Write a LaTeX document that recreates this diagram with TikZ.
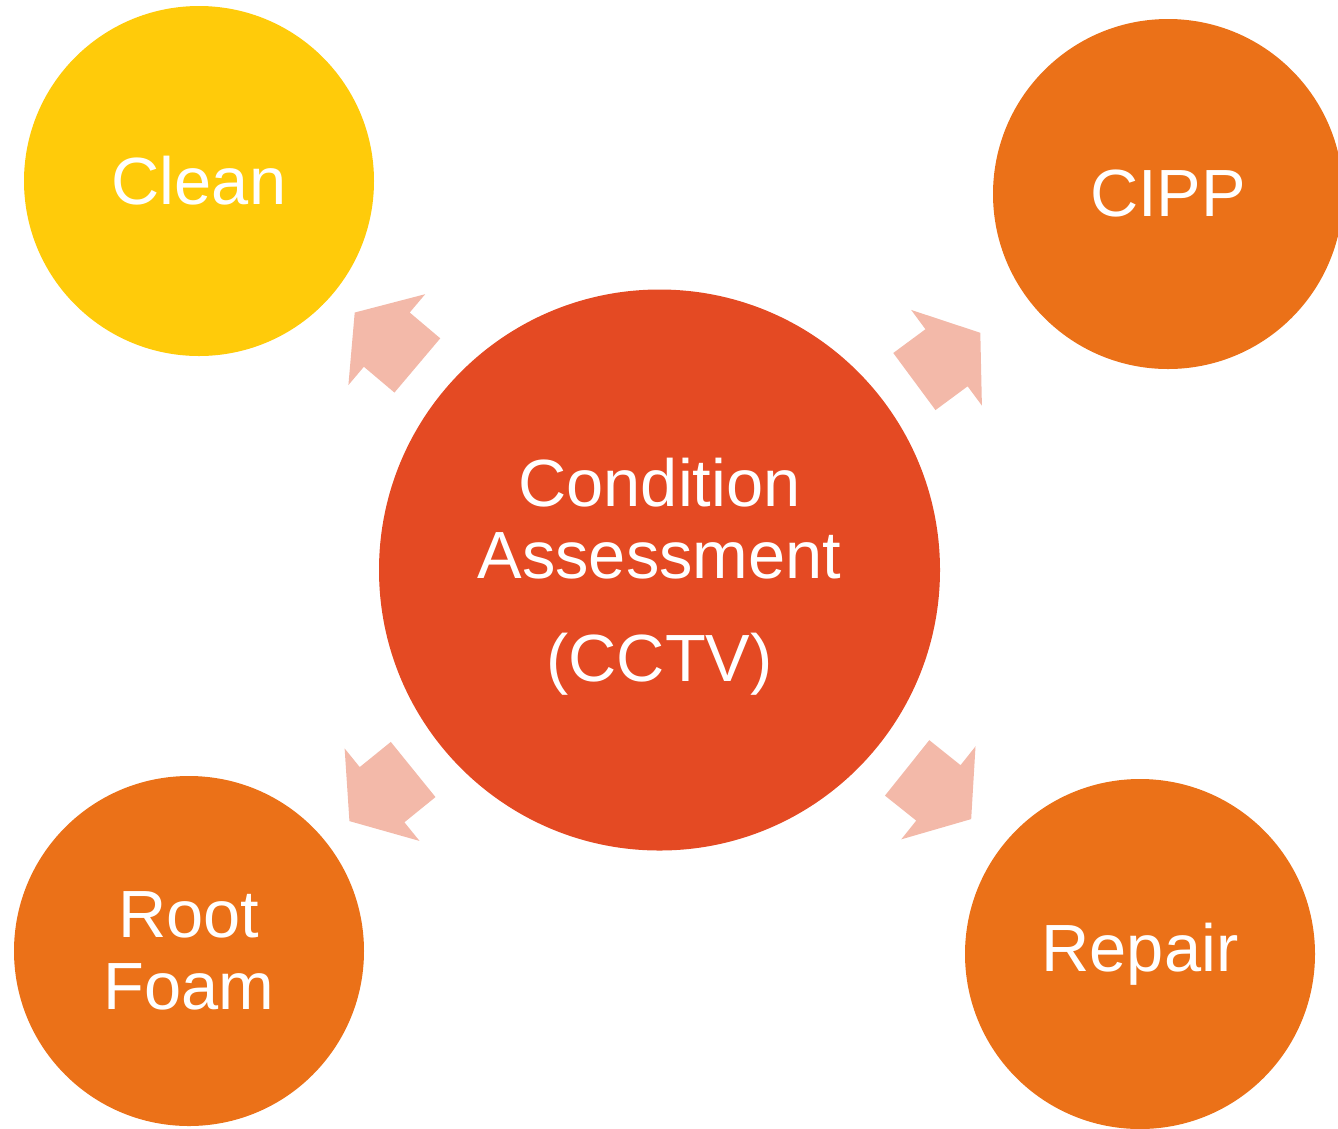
\documentclass[tikz,border=0pt]{standalone}
\usepackage{fontspec}
\setmainfont{Liberation Sans}
\usetikzlibrary{calc}
\definecolor{condred}{HTML}{E44A23}
\definecolor{stepyellow}{HTML}{FFCB0A}
\definecolor{steporange}{HTML}{EB7118}
\definecolor{spokepink}{HTML}{F3B9A9}
\begin{document}
\begin{tikzpicture}[font=\fontsize{38}{41}\selectfont]
	\tikzstyle{bubbleStyle}=[shape = circle, minimum size = 7cm, inner sep = 0pt, text = white, align = center]
	\tikzstyle{hubStyle}=[bubbleStyle, minimum size = 11.22cm, fill = condred]
	\tikzstyle{spokeStyle}=[fill = spokepink]
	\useasboundingbox (0,0) rectangle (26.76,-22.56);
	\clip (0,0) rectangle (26.76,-22.56);
	\node[hubStyle, label = {[text = white, align = center, yshift = -0.14cm]center:Condition\\Assessment\\[0.62cm](CCTV)}] (cond) at (13.19,-11.40) {};
	\node[bubbleStyle, fill = stepyellow] (clean) at (3.98,-3.62) {Clean};
	\node[bubbleStyle, fill = steporange] (cipp) at (23.36,-3.88) {CIPP};
	\node[bubbleStyle, fill = steporange] (foam) at (3.78,-19.02) {Root\\Foam};
	\node[bubbleStyle, fill = steporange] (repair) at (22.80,-19.08) {Repair};
	
	\foreach \target in {clean, cipp, foam, repair}
		\path let \p1 = ($(\target.center)-(cond.center)$), \n1 = {atan2(\y1,\x1)} in
			[spokeStyle, shift = {(cond.center)}, rotate = \n1]
			(6.34,-0.71) -- (7.14,-0.71) -- (7.14,-1.19) -- (7.98,0) -- (7.14,1.19) -- (7.14,0.71) -- (6.34,0.71) -- cycle;
\end{tikzpicture}
\end{document}
